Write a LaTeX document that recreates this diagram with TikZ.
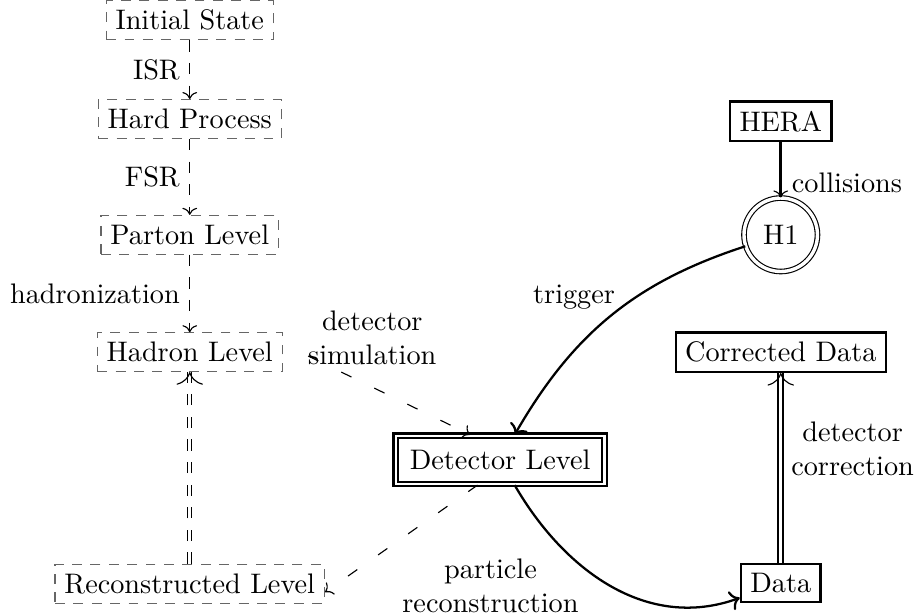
\documentclass[tikz,border=0pt]{standalone}
\usepackage{amsmath,amssymb}
\usetikzlibrary{arrows.meta}

\tikzset{
  genbox/.style={draw=black!60, dash pattern=on 3.5pt off 3pt},
  databox/.style={draw, thick},
  detbox/.style={draw, thick, double, double distance=0.8pt, inner sep=5pt},
  ringnode/.style={circle, draw, double, double distance=1.2pt, minimum size=26pt},
  genarrow/.style={->, dash pattern=on 4pt off 4pt},
  simarrow/.style={->, dash pattern=on 4pt off 9pt},
  tiponly/.style={white, -{To[black, scale=1.8]}},
}

\begin{document}
\begin{tikzpicture}
	\useasboundingbox (0,0) rectangle (11.38,7.66);
	% generator side
	\node[genbox] (init) at (2.36,7.41) {Initial State};
	\node[genbox] (hard) at (2.36,6.18) {Hard Process};
	\node[genbox] (parton) at (2.36,4.74) {Parton Level};
	\node[genbox] (hadron) at (2.36,3.28) {Hadron Level};
	\node[genbox] (rec) at (2.36,0.40) {Reconstructed Level};
	\node[detbox] (det) at (6.22,1.94) {Detector Level};
	% data side
	\node[databox] (hera) at (9.71,6.15) {HERA};
	\node[ringnode] (h1) at (9.71,4.74) {H1};
	\node[databox] (corr) at (9.71,3.28) {Corrected Data};
	\node[databox] (data) at (9.71,0.41) {Data};

	\draw[genarrow] (init) -- node[left] {ISR} (hard);
	\draw[genarrow] (hard) -- node[left] {FSR} (parton);
	\draw[genarrow] (parton) -- node[left] {hadronization} (hadron);
	\draw[dash pattern=on 4pt off 4pt, double, double distance=1pt] (rec) -- (hadron);
	\draw[tiponly] ([yshift=-2pt]hadron.south) -- (hadron.south);

	\draw[simarrow, shorten <=10pt] ([yshift=3pt]hadron.east) -- ([xshift=-10.6pt]det.north);
	\node[align=center] (simlabel) at (4.63,3.46) {detector\\simulation};
	\draw[simarrow] ([xshift=-8pt]det.south) -- ([yshift=-3pt]rec.east);
	\node[align=center] (reclabel) at (6.10,0.37) {particle\\reconstruction};

	\draw[very thick] (hera) -- node[right, pos=0.73] {collisions} (h1);
	\draw[->] ([yshift=3pt]h1.north) -- (h1.north);
	\draw[->, thick] (h1) to[out=198, in=60] (det);
	\node (triglabel) at (7.14,3.97) {trigger};
	\draw[->, thick] (det) to[out=-60, in=200] (data);
	\draw[thick, double, double distance=1pt] (data) -- node[right, align=center, pos=0.6] {detector\\correction} (corr);
	\draw[tiponly] ([yshift=-2pt]corr.south) -- (corr.south);
\end{tikzpicture}
\end{document}
